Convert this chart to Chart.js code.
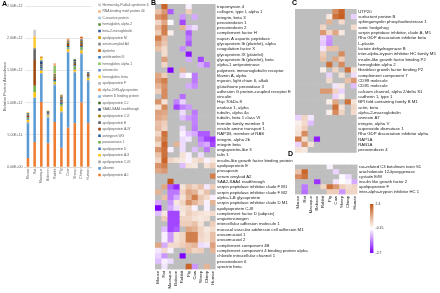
<!DOCTYPE html>
<html>
<head>
<meta charset="utf-8">
<script src="https://cdn.jsdelivr.net/npm/chart.js@4.4.1/dist/chart.umd.min.js"></script>
<style>
  html, body { margin: 0; padding: 0; background: #fff; }
  #wrap { position: relative; width: 440px; height: 293px; overflow: hidden; }
  #wrap canvas { position: absolute; }
  .tag { position: absolute; font: bold 7px "Liberation Sans", Arial, sans-serif; color: #000; }
</style>
</head>
<body>
<div id="wrap">
  <canvas id="chart-abundance" width="94" height="293" style="left:0;top:0"></canvas>
  <canvas id="legend-abundance" width="60" height="186" style="left:95px;top:0"></canvas>
  <canvas id="heat-b" width="175" height="293" style="left:150px;top:0"></canvas>
  <canvas id="heat-c" width="150" height="160" style="left:290px;top:0"></canvas>
  <canvas id="heat-d" width="150" height="72" style="left:290px;top:158px"></canvas>
  <canvas id="colorbar" width="40" height="62" style="left:360px;top:198px"></canvas>
  <div class="tag" style="left:2px;top:0">A</div>
  <div class="tag" style="left:151px;top:-1px">B</div>
  <div class="tag" style="left:292px;top:-1px">C</div>
  <div class="tag" style="left:288px;top:150px">D</div>
</div>
<script>
// ── data ────────────────────────────────────────────────────────────────────
const species = ["Mouse", "Rat", "Macaque", "Baboon", "Rabbit", "Pig", "Cow", "Sheep", "Chimp", "Human"];
const abundanceTicks = ["0.00E+00", "5.00E+11", "1.00E+12", "1.50E+12", "2.00E+12", "2.50E+12"];

// stack order, bottom to top (legend shows it reversed)
const proteinNames = [
  "apolipoprotein A-I", "albumin", "apolipoprotein C-III", "apolipoprotein A-II",
  "apolipoprotein D", "paraoxonase 1", "antitrypsin WG", "apolipoprotein A-IV",
  "apolipoprotein E", "apolipoprotein C-II", "SAA2-SAA4 readthrough", "apolipoprotein C-I",
  "vitamin D binding protein", "alpha-2-HS-glycoprotein", "apolipoprotein F", "hemoglobin, beta",
  "vitronectin", "hemoglobin, alpha 1", "antithrombin III", "dysferlin",
  "serum amyloid A4", "apolipoprotein M", "beta-2-microglobulin", "hemoglobin, alpha 2",
  "C-reactive protein", "RNA binding motif protein 44", "Hermansky-Pudlak syndrome 6",
];

// relative abundance, units of 1e12, one row per protein, columns = species
const abundance = [
  [0.14, 0.39, 1.01, 0.37, 0.70, 0.30, 0.61, 0.68, 1.00, 0.68],
  [0.54, 0.68, 0.44, 0.40, 0.57, 0.54, 1.16, 0.78, 0.75, 0.65],
  [0.02, 0.01, 0.01, 0.01, 0.02, 0.02, 0.02, 0.02, 0.02, 0.02],
  [0.03, 0.08, 0.04, 0.02, 0.02, 0.08, 0.04, 0.03, 0.04, 0.03],
  [0.01, 0, 0.02, 0.01, 0, 0.01, 0.01, 0.01, 0.01, 0.01],
  [0.02, 0.10, 0.01, 0.01, 0.02, 0.03, 0.02, 0.04, 0.04, 0.01],
  [0.01, 0, 0.03, 0.01, 0.02, 0.02, 0.02, 0.02, 0.02, 0.01],
  [0.02, 0.40, 0.01, 0.01, 0.02, 0.02, 0.03, 0.02, 0.03, 0.02],
  [0.02, 0.17, 0.02, 0.02, 0.03, 0.03, 0.02, 0.03, 0.03, 0.02],
  [0.01, 0, 0, 0, 0.02, 0.01, 0.02, 0.01, 0.02, 0.01],
  [0.01, 0.01, 0.05, 0.01, 0.01, 0.02, 0.01, 0.02, 0.02, 0.01],
  [0.01, 0, 0.01, 0, 0.01, 0.01, 0, 0.01, 0, 0],
  [0, 0, 0.01, 0, 0, 0, 0, 0, 0, 0],
  [0, 0, 0, 0, 0.01, 0, 0.02, 0, 0.02, 0],
  [0, 0, 0, 0, 0, 0, 0, 0, 0, 0],
  [0.01, 0.18, 0.03, 0.01, 0, 0, 0, 0, 0, 0],
  [0, 0, 0, 0, 0, 0, 0, 0, 0, 0],
  [0, 0, 0, 0, 0.12, 0, 0, 0.01, 0, 0],
  [0, 0, 0, 0, 0, 0, 0, 0, 0, 0],
  [0, 0, 0, 0, 0, 0.02, 0.01, 0, 0.02, 0],
  [0, 0, 0, 0, 0, 0, 0, 0, 0, 0],
  [0, 0, 0.02, 0, 0, 0, 0, 0, 0, 0],
  [0, 0, 0, 0, 0, 0, 0, 0, 0, 0],
  [0, 0, 0, 0, 0, 0.01, 0, 0, 0, 0],
  [0, 0, 0, 0, 0, 0, 0, 0, 0, 0],
  [0, 0.01, 0.01, 0, 0.04, 0, 0, 0, 0.01, 0],
  [0, 0.10, 0, 0, 0, 0, 0, 0, 0, 0],
];

const _ = null; // not detected (grey cell)

const rowsB = [
  "tropomyosin 4", "collagen, type I, alpha 1", "integrin, beta 3", "peroxiredoxin 1",
  "peroxiredoxin 2", "complement factor H", "napsin A aspartic peptidase",
  "glycoprotein Ib (platelet), alpha", "coagulation factor X", "glycoprotein IX (platelet)",
  "glycoprotein Ib (platelet), beta", "alpha-1 antiproteinase", "polymeric immunoglobulin receptor",
  "filamin A, alpha", "myosin, light chain 6, alkali", "glutathione peroxidase 3",
  "adhesion G protein-coupled receptor E", "vinculin", "Hsp 70kDa 8", "enolase 1, alpha",
  "tubulin, alpha 4a", "tubulin, beta 1 class VI", "fermitin family member 3",
  "vesicle amine transport 1", "RAP1B, member of RAS", "integrin, alpha 2b", "integrin beta",
  "angiopoietin-like 3", "talin 1", "insulin-like growth factor binding protein",
  "apolipoprotein E", "prosaposin", "serum amyloid A2", "SAA2-SAA4 readthrough",
  "serpin peptidase inhibitor clade F M1", "serpin peptidase inhibitor clade F M2",
  "alpha-1-B glycoprotein", "serpin peptidase inhibitor clade D M1", "apolipoprotein C-III",
  "complement factor D (adipsin)", "angiotensinogen", "intercellular adhesion molecule 1",
  "mucosal vascular addressin cell adhesion M1", "orosomucoid 1", "orosomucoid 2",
  "complement component 4B", "complement component 4 binding protein alpha",
  "chloride intracellular channel 1", "peroxiredoxin 6", "spectrin beta",
];
const valuesB = [
  [_, 2.2, _, _, _, -0.3, _, _, _, _],
  [0.8, 1.4, -1.8, _, _, 0.6, _, _, _, _],
  [1.5, 1.8, _, _, -1.2, _, -1.0, _, _, _],
  [0.5, 1.2, -0.2, _, -2.0, _, _, _, _, _],
  [1.0, 1.8, _, _, 1.0, -0.8, -0.5, _, _, _],
  [0.6, 1.8, 0.1, _, _, -1.8, _, _, _, _],
  [1.8, 0.9, _, _, _, -1.5, _, _, _, _],
  [1.2, 0.7, _, _, _, -1.8, _, _, _, _],
  [0.8, 0.4, _, _, -1.3, _, _, _, _, _],
  [_, 0.4, _, _, _, -2.5, _, _, _, _],
  [_, 1.3, _, _, _, -1.0, _, -2.0, _, _],
  [_, 0.5, _, _, _, _, _, -1.0, -1.5, _],
  [_, _, -2.7, _, 1.0, _, _, _, _, _],
  [1.2, 0.6, _, _, -0.5, -0.2, -1.5, _, _, _],
  [1.4, 1.8, _, _, _, _, -1.5, _, _, _],
  [1.0, 1.5, _, _, _, -1.0, -1.3, _, _, _],
  [0.6, 1.6, _, _, _, _, _, _, _, _],
  [_, 1.6, _, _, -1.6, _, _, _, _, _],
  [1.5, 0.3, _, -1.4, -0.6, _, _, _, _, _],
  [0.3, 1.6, _, -2.0, -1.4, -1.2, _, _, _, _],
  [1.3, 1.2, _, _, -0.5, _, -1.5, _, _, _],
  [1.2, 1.0, _, _, -0.8, -1.2, -1.4, _, _, _],
  [0.8, 0.6, _, _, _, _, -1.4, _, _, _],
  [0.9, 0.5, _, _, -0.5, _, -1.5, _, _, _],
  [0.5, 2.0, _, _, -0.3, -0.8, -1.0, -1.8, -1.8, _],
  [1.0, 1.8, _, _, -0.5, -0.4, _, -1.5, -2.0, -2.2],
  [0.5, 2.2, _, 1.0, -0.5, _, _, -1.2, -1.0, -2.0],
  [1.5, 2.0, -0.3, _, -0.5, _, -0.8, _, -1.5, _],
  [0.8, 2.0, _, _, 0.3, -0.3, _, -0.5, _, _],
  [0.5, 2.2, 0.5, 0.3, 0.2, -0.3, 0.3, 0.5, -0.3, 0.2],
  [1.5, 1.8, _, _, -0.8, 0.3, 0.2, _, 0.3, 0.6],
  [1.2, 1.4, _, _, _, _, _, _, _, _],
  [_, _, _, _, _, _, _, _, _, 1.8],
  [_, _, 2.4, _, _, _, _, _, _, _],
  [_, 1.2, -1.8, -2.3, 0.3, 0.8, 0.5, 0.8, -0.4, 0.6],
  [1.0, _, -1.5, -1.5, 0.5, 1.2, 1.0, 0.3, 0.8, _],
  [_, 0.8, -1.5, -1.0, 0.3, 1.0, 1.8, 0.7, 0.4, -0.3],
  [-1.0, _, -1.2, 0.2, 0.5, 1.5, 1.0, 0.6, -0.3, 1.0],
  [-2.7, _, -1.0, -0.5, 0.3, 0.5, -0.3, _, -0.3, _],
  [-0.8, 0.2, -2.0, -2.0, 0.2, 0.6, 0.4, 0.3, 0.2, 0.4],
  [_, 0.6, -2.0, -2.0, 0.5, 0.5, 0.3, 0.2, 0.3, _],
  [_, _, -2.0, -2.0, 0.6, 0.6, 0.8, 0.3, _, 0.6],
  [_, -0.8, -2.0, -1.8, _, 1.2, 1.0, 0.5, 0.2, 0.4],
  [_, -0.3, -1.2, 0.3, 0.5, 1.8, 1.8, 0.5, 0.3, 0.8],
  [_, -0.3, -1.2, 0.3, 0.5, 1.8, 1.8, 0.4, 0.3, 0.8],
  [1.2, -1.0, 0.4, 0.4, 0.6, 0.8, 1.0, -0.5, -0.4, 1.3],
  [-0.4, 0.4, -0.3, _, _, 0.8, 0.5, 0.6, _, 1.0],
  [-0.6, -1.2, _, _, -2.7, _, _, _, _, _],
  [-0.8, -0.3, -0.5, _, _, _, _, _, _, _],
  [_, -0.4, _, _, _, 2.2, -1.2, _, 1.0, _],
];

const rowsC = [
  "UTP20", "surfactant protein B", "sphingomyelin phosphodiesterase 1", "sonic hedgehog",
  "serpin peptidase inhibitor, clade A, M5", "Rho GDP dissociation inhibitor beta", "L-plastin",
  "lactate dehydrogenase B", "inter-alpha-trypsin inhibitor HC family M5",
  "insulin-like growth factor binding P2", "hemoglobin alpha 2", "fibroblast growth factor binding P2",
  "complement component 7", "CD99 molecule", "CD81 molecule", "calcium channel, alpha 2/delta S1",
  "cadherin 1, type 1", "BPI fold containing family B M1", "actin, beta", "alpha-2-macroglobulin",
  "annexin A7", "integrin, alpha V", "superoxide dismutase 1", "Rho GDP dissociation inhibitor alpha",
  "RAP1A", "RAB1A", "peroxiredoxin 4",
];
const valuesC = [
  [_, _, _, _, _, _, 1.6, 2.2, _, _],
  [_, _, _, _, _, 0.2, 2.0, 2.3, _, -0.6],
  [_, _, _, _, _, 1.0, _, 0.4, _, _],
  [_, _, _, _, 0.5, _, _, _, _, 0.4],
  [_, _, _, _, 1.4, 0.5, 1.2, 0.2, _, _],
  [_, _, _, _, -0.6, -1.2, _, _, _, _],
  [_, _, _, _, -0.7, -1.3, _, _, _, _],
  [_, _, _, _, -0.4, 0.8, 0.8, _, _, _],
  [_, _, _, _, 0.6, _, _, 1.6, _, _],
  [_, _, _, _, 0.8, _, 1.2, 0.6, _, _],
  [_, _, _, _, _, 2.0, _, 1.6, _, _],
  [_, _, _, _, 0.1, _, 0.5, _, 2.0, 0.3],
  [_, _, _, _, _, -0.6, _, 0.3, _, -0.5],
  [_, _, _, _, _, 0.4, _, _, 0.8, 1.4],
  [_, _, _, _, _, _, -0.4, 0.2, _, -0.8],
  [_, _, _, _, 1.4, 1.4, 0.5, -0.6, _, _],
  [_, _, _, _, _, _, -0.6, 0.1, _, _],
  [_, _, _, _, _, 0.1, 1.2, _, 2.0, 0.3],
  [_, _, _, _, _, _, 2.0, 0.3, _, 0.5],
  [_, _, _, _, _, 0.1, 1.6, 0.5, _, 0.4],
  [-0.6, 0.5, -0.4, _, _, _, _, _, _, _],
  [0.1, 0.4, -0.8, _, _, _, _, _, _, _],
  [0.2, 0.6, _, _, _, _, _, _, _, _],
  [0.3, 1.6, _, _, _, _, _, _, _, _],
  [1.8, 0.4, _, -2.4, _, _, _, _, _, _],
  [-0.6, 1.4, 0.3, _, _, _, _, _, _, _],
  [0.3, 0.2, _, _, _, _, _, _, _, _],
];

const rowsD = [
  "ras-related C3 botulinum toxin S1", "arachidonate 12-lipoxygenase", "cystatin E/M",
  "insulin like growth factor 2", "apolipoprotein F", "inter-alpha-trypsin inhibitor HC 1",
];
const valuesD = [
  [_, _, _, _, _, -0.3, _, _, _, _],
  [0.8, 2.2, _, _, _, _, -0.6, _, _, _],
  [1.6, 2.0, _, _, _, _, _, -0.2, -0.5, _],
  [_, _, _, -2.2, _, _, -0.4, -0.1, -0.3, -1.0],
  [_, -1.5, _, _, 0.5, 2.0, 1.4, 0.6, 0.4, 0.5],
  [_, -1.6, _, _, _, 0.6, 0.6, -1.2, 0.5, 0.5],
];

const colorbarTicks  = [-2.7, -0.15, 2.4];
const colorbarLabels = ["-2.7", "-0.15", "2.4"];

// ── styles ──────────────────────────────────────────────────────────────────
const FONT = '"Liberation Sans", Arial, sans-serif';
const seriesColors = [
  "#ED7D31", "#5B9BD5", "#A5A5A5", "#FFC000", "#4472C4", "#70AD47", "#255E91", "#9E480E",
  "#636363", "#997300", "#264478", "#43682B", "#7CAFDD", "#F1975A", "#B7B7B7", "#FFCD33",
  "#698ED0", "#8CC168", "#327DC2", "#D26012", "#848484", "#CC9A00", "#335AA1", "#5A8A39",
  "#9DC3E6", "#F4B183", "#C9C9C9",
];
const NA_COLOR = "#bebebe";
const LOW  = [128, 0, 255];
const HIGH = [196, 88, 24];
const V_MIN = colorbarTicks[0], V_MID = colorbarTicks[1], V_MAX = colorbarTicks[2];

Chart.defaults.font.family = FONT;

function mix(a, t) {
  const c = a.map((x) => Math.round(255 + (x - 255) * t));
  return `rgb(${c[0]},${c[1]},${c[2]})`;
}
function heatColor(v) {
  if (v === null) return NA_COLOR;
  if (v >= V_MID) return mix(HIGH, Math.min(1, (v - V_MID) / (V_MAX - V_MID)));
  return mix(LOW, Math.min(1, (V_MID - v) / (V_MID - V_MIN)));
}

const quiet = { responsive: false, animation: false, events: [] };

// ── A: stacked bars ─────────────────────────────────────────────────────────
new Chart(document.getElementById("chart-abundance"), {
  type: "bar",
  data: {
    labels: species,
    datasets: proteinNames.map((name, i) => ({
      label:              name,
      data:               abundance[i],
      backgroundColor:    seriesColors[i],
      borderWidth:        0,
      barPercentage:      0.38,
      categoryPercentage: 1,
    })),
  },
  options: {
    ...quiet,
    layout: { padding: { top: 6, left: 0, right: 0, bottom: 0 } },
    plugins: { legend: { display: false }, tooltip: { enabled: false } },
    scales: {
      x: {
        stacked: true,
        grid:    { display: false, drawTicks: false },
        border:  { color: "#d9d9d9" },
        ticks:   { minRotation: 90, maxRotation: 90, autoSkip: false, padding: 1.5, color: "#595959", font: { size: 3.6 } },
        afterFit: (s) => { s.height = 126; },
      },
      y: {
        stacked: true,
        min: 0,
        max: 2.5,
        ticks:  { stepSize: 0.5, padding: 2, color: "#595959", font: { size: 3.6 }, callback: (v, i) => abundanceTicks[i] },
        grid:   { color: "#d9d9d9", lineWidth: 0.6, drawTicks: false },
        border: { display: false },
        title:  { display: true, text: "Relative Protein Abundance", color: "#595959", font: { size: 4 }, padding: { top: 2.5, bottom: 1 } },
        afterFit: (s) => { s.width = 24.6; },
      },
    },
  },
});

// legend of A: same series, shown by the legend plugin in its own narrow canvas
new Chart(document.getElementById("legend-abundance"), {
  type: "bar",
  data: {
    labels: [],
    datasets: proteinNames.map((name, i) => ({ label: name, data: [], backgroundColor: seriesColors[i] })),
  },
  options: {
    ...quiet,
    layout: { padding: { top: 1.4, left: 0, right: 0, bottom: 0 } },
    plugins: {
      legend: {
        position: "chartArea",
        align:    "start",
        reverse:  true,
        labels: { boxWidth: 2.6, boxHeight: 2.6, padding: 3.24, color: "#595959", font: { size: 3.3 } },
      },
      tooltip: { enabled: false },
    },
    scales: { x: { display: false }, y: { display: false } },
  },
});

// ── B, C, D: heatmaps as floating bars ──────────────────────────────────────
function drawHeatmap(id, rows, values, opt) {
  const datasets = species.map((s, c) => ({
    label:              s,
    data:               rows.map(() => [c, c + 1]),
    backgroundColor:    values.map((r) => heatColor(r[c])),
    borderWidth:        0,
    barPercentage:      1,
    categoryPercentage: 1,
    grouped:            false,
    inflateAmount:      0.35,
  }));
  const scales = {
    x: { type: "linear", min: 0, max: species.length, display: false },
    y: {
      position: "right",
      offset:   true,
      grid:     { display: false, drawTicks: false },
      border:   { display: false },
      ticks:    { autoSkip: false, padding: 1.5, color: "#222", font: { size: opt.font } },
      afterFit: (s) => { s.width = opt.axisWidth; },
    },
  };
  if (opt.colHeight) {
    scales.x2 = {
      axis: "x", type: "category", position: "bottom", labels: species, offset: true,
      grid:   { display: false, drawTicks: false },
      border: { display: false },
      ticks:  { minRotation: 90, maxRotation: 90, autoSkip: false, padding: 1.5, color: "#222", font: { size: opt.font } },
      afterFit: (s) => { s.height = opt.colHeight; },
    };
  }
  return new Chart(document.getElementById(id), {
    type: "bar",
    data: { labels: rows, datasets },
    options: {
      ...quiet,
      indexAxis: "y",
      layout:    { padding: opt.padding },
      plugins:   { legend: { display: false }, tooltip: { enabled: false } },
      scales,
    },
  });
}

drawHeatmap("heat-b", rowsB, valuesB, {
  font: 4.3, axisWidth: 109.4, colHeight: 23.6, padding: { left: 5, top: 3.3, right: 0, bottom: 0 },
});
drawHeatmap("heat-c", rowsC, valuesC, {
  font: 4.3, axisWidth: 83.3, padding: { left: 5, top: 9, right: 0, bottom: 7.3 },
});
drawHeatmap("heat-d", rowsD, valuesD, {
  font: 4.2, axisWidth: 82.5, colHeight: 35.5, padding: { left: 5, top: 6.5, right: 0, bottom: 0 },
});

// ── colour key ──────────────────────────────────────────────────────────────
new Chart(document.getElementById("colorbar"), {
  type: "bar",
  data: {
    labels: [""],
    datasets: [{
      data: [[V_MIN, V_MAX]],
      borderWidth: 0,
      barPercentage: 1,
      categoryPercentage: 1,
      backgroundColor: (ctx) => {
        const a = ctx.chart.chartArea;
        if (!a) return NA_COLOR;
        const g = ctx.chart.ctx.createLinearGradient(0, a.bottom, 0, a.top);
        g.addColorStop(0, mix(LOW, 1));
        g.addColorStop((V_MID - V_MIN) / (V_MAX - V_MIN), "#ffffff");
        g.addColorStop(1, mix(HIGH, 1));
        return g;
      },
    }],
  },
  options: {
    ...quiet,
    layout: { padding: { left: 10, top: 6, right: 0, bottom: 7 } },
    plugins: { legend: { display: false }, tooltip: { enabled: false } },
    scales: {
      x: { display: false },
      y: {
        position: "right",
        min: V_MIN,
        max: V_MAX,
        grid:   { display: false, drawTicks: false },
        border: { display: false },
        afterBuildTicks: (s) => { s.ticks = colorbarTicks.map((v) => ({ value: v })); },
        ticks: { padding: 2, color: "#333", font: { size: 3.5 }, callback: (v, i) => colorbarLabels[i] },
        afterFit: (s) => { s.width = 26.5; },
      },
    },
  },
});
</script>
</body>
</html>
